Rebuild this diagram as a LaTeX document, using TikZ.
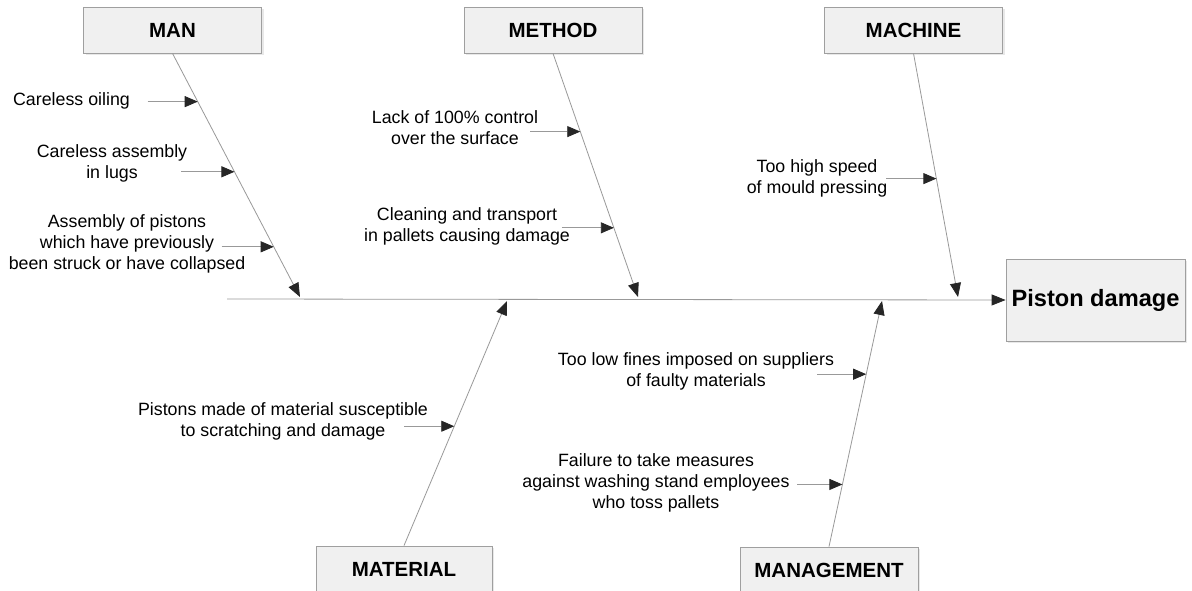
\documentclass[tikz,border=0pt]{standalone}
\usepackage{fontspec}
\setmainfont{Liberation Sans}
\usetikzlibrary{arrows.meta,shadows,calc}
\begin{document}
\begin{tikzpicture}[x=1pt,y=-1pt,
  catbox/.style={draw=gray!75,fill=gray!12,line width=0.8pt,minimum width=178pt,minimum height=46pt,
    font=\fontsize{20.5}{24}\selectfont\bfseries,inner sep=0pt,
    drop shadow={opacity=0.18,shadow xshift=2pt,shadow yshift=-2pt}},
  effbox/.style={draw=gray!75,fill=gray!12,line width=0.8pt,minimum width=179pt,minimum height=82pt,
    font=\fontsize{23.6}{27}\selectfont\bfseries,inner sep=0pt,
    drop shadow={opacity=0.18,shadow xshift=2pt,shadow yshift=-2pt}},
  lbl/.style={align=center,font=\fontsize{17.8}{21}\selectfont,inner sep=0pt},
  bone/.style={draw=gray!80,line width=0.8pt,-{Triangle[length=14pt,width=11pt,fill=gray!30!black,color=gray!30!black]}},
  sub/.style={draw=gray!80,line width=0.8pt,-{Triangle[length=13pt,width=11pt,fill=gray!30!black,color=gray!30!black]}}
]
\useasboundingbox[fill=white] (0,0) rectangle (1192,591);

% category boxes
\node[catbox] (man) at (172.5,30) {MAN};
\node[catbox] (method) at (553,30) {METHOD};
\node[catbox] (machine) at (913.5,30) {MACHINE};
\node[catbox,minimum width=176pt] (material) at (404,569) {MATERIAL};
\node[catbox] (management) at (829,570) {MANAGEMENT};
\node[effbox] (effect) at (1095.5,300) {Piston damage};

% spine
\coordinate (spstart) at (227,299);
\draw[bone] (spstart) -- (effect.west);

% tips on spine
\coordinate (manTip) at (300,297);
\coordinate (methodTip) at (638,297);
\coordinate (machineTip) at (958,297);
\coordinate (materialTip) at (507,301);
\coordinate (managementTip) at (882,301);

% bones
\draw[bone] (man.south) -- (manTip);
\draw[bone] (method.south) -- (methodTip);
\draw[bone] (machine.south) -- (machineTip);
\draw[bone] (material.north) -- (materialTip);
\draw[bone] (management.north) -- (managementTip);

% points on bones
\path (man.south) -- (manTip) coordinate[pos=0.198] (m1) coordinate[pos=0.486] (m2) coordinate[pos=0.794] (m3);
\path (method.south) -- (methodTip) coordinate[pos=0.321] (t1) coordinate[pos=0.716] (t2);
\path (machine.south) -- (machineTip) coordinate[pos=0.514] (c1);
\path (material.north) -- (materialTip) coordinate[pos=0.488] (a1);
\path (management.north) -- (managementTip) coordinate[pos=0.702] (g1) coordinate[pos=0.253] (g2);

% free ends of sub-arrows
\coordinate (m1s) at ($(m1)+(-50,0)$);
\coordinate (m2s) at ($(m2)+(-53,0)$);
\coordinate (m3s) at ($(m3)+(-52,0)$);
\coordinate (t1s) at ($(t1)+(-50,0)$);
\coordinate (t2s) at ($(t2)+(-52,0)$);
\coordinate (c1s) at ($(c1)+(-50,0)$);
\coordinate (a1s) at ($(a1)+(-50,0)$);
\coordinate (g1s) at ($(g1)+(-49,0)$);
\coordinate (g2s) at ($(g2)+(-45,0)$);

\draw[sub] (m1s) -- (m1);
\draw[sub] (m2s) -- (m2);
\draw[sub] (m3s) -- (m3);
\draw[sub] (t1s) -- (t1);
\draw[sub] (t2s) -- (t2);
\draw[sub] (c1s) -- (c1);
\draw[sub] (a1s) -- (a1);
\draw[sub] (g1s) -- (g1);
\draw[sub] (g2s) -- (g2);

% labels
\node[lbl] (l1) at (71.5,101) {Careless oiling};
\node[lbl] (l2) at (112,163) {Careless assembly\\in lugs};
\node[lbl] (l3) at (127,244) {Assembly of pistons\\which have previously\\been struck or have collapsed};
\node[lbl] (l4) at (455,128) {Lack of 100\% control\\over the surface};
\node[lbl] (l5) at (467,226) {Cleaning and transport\\in pallets causing damage};
\node[lbl] (l6) at (817,178) {Too high speed\\of mould pressing};
\node[lbl] (l7) at (283,421) {Pistons made of material susceptible\\to scratching and damage};
\node[lbl] (l8) at (696,371) {Too low fines imposed on suppliers\\of faulty materials};
\node[lbl] (l9) at (656,483) {Failure to take measures\\against washing stand employees\\who toss pallets};
\end{tikzpicture}
\end{document}
